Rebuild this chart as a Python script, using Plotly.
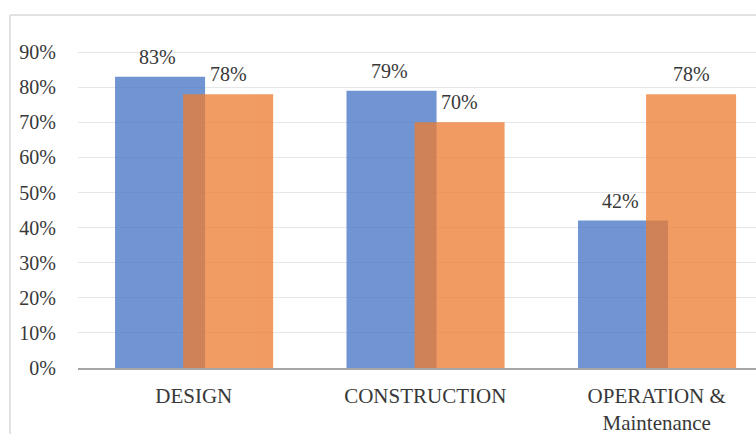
import plotly.graph_objects as go

# Phase categories and the two survey series (fractions)
categories = ["DESIGN", "CONSTRUCTION", "OPERATION &<br>Maintenance"]
series_a = [0.83, 0.79, 0.42]
series_b = [0.78, 0.70, 0.78]
y_ticks = [0.0, 0.1, 0.2, 0.3, 0.4, 0.5, 0.6, 0.7, 0.8, 0.9]
y_tick_text = ["0%", "10%", "20%", "30%", "40%", "50%", "60%", "70%", "80%", "90%"]

BAR_W = 0.389
OFF_A = -0.340
OFF_B = -0.046
FONT = "Liberation Serif, Times New Roman, serif"
TXT = "#383838"

xs = list(range(len(categories)))

fig = go.Figure()
fig.add_trace(go.Bar(x=xs, y=series_a, width=BAR_W, offset=OFF_A,
                     marker=dict(color="#4472C4", line=dict(width=0)),
                     opacity=0.76, showlegend=False))
fig.add_trace(go.Bar(x=xs, y=series_b, width=BAR_W, offset=OFF_B,
                     marker=dict(color="#ED7D31", line=dict(width=0)),
                     opacity=0.76, showlegend=False))

# value labels above each bar
annotations = []
for i, (a, b) in enumerate(zip(series_a, series_b)):
    annotations.append(dict(x=i + OFF_A + BAR_W / 2 - 0.01, y=a, text=f"{round(a*100)}%",
                            showarrow=False, yanchor="middle", yshift=20,
                            font=dict(family=FONT, size=20, color=TXT)))
    annotations.append(dict(x=i + OFF_B + BAR_W / 2, y=b, text=f"{round(b*100)}%",
                            showarrow=False, yanchor="middle", yshift=20,
                            font=dict(family=FONT, size=20, color=TXT)))

# light outer frame of the chart area
shapes = [
    dict(type="line", xref="paper", yref="paper", x0=-0.1, x1=1.05, y0=1.006, y1=1.006,
         line=dict(color="#d9d9d9", width=1.5)),
    dict(type="line", xref="paper", yref="paper", x0=-0.1003, x1=-0.1003, y0=1.006, y1=-0.3,
         line=dict(color="#d9d9d9", width=1.5)),
]

fig.update_layout(
    width=756, height=434,
    margin=dict(l=78, r=0, t=17, b=66),
    paper_bgcolor="white", plot_bgcolor="white",
    barmode="overlay",
    annotations=annotations,
    shapes=shapes,
    font=dict(family=FONT, color=TXT),
    xaxis=dict(range=[-0.5, 2.429], tickvals=xs, ticktext=categories,
               showgrid=False, zeroline=False, showline=True,
               linecolor="#a6a6a6", linewidth=1.5, ticks="",
               ticklabelstandoff=8,
               tickfont=dict(family=FONT, size=21, color=TXT)),
    yaxis=dict(range=[0, 1.0], tickvals=y_ticks, ticktext=y_tick_text,
               showgrid=True, gridcolor="#e6e6e6", gridwidth=1,
               zeroline=False, showline=False, ticks="",
               ticklabelstandoff=21,
               tickfont=dict(family=FONT, size=20, color=TXT)),
)

fig.write_html("out.html")
